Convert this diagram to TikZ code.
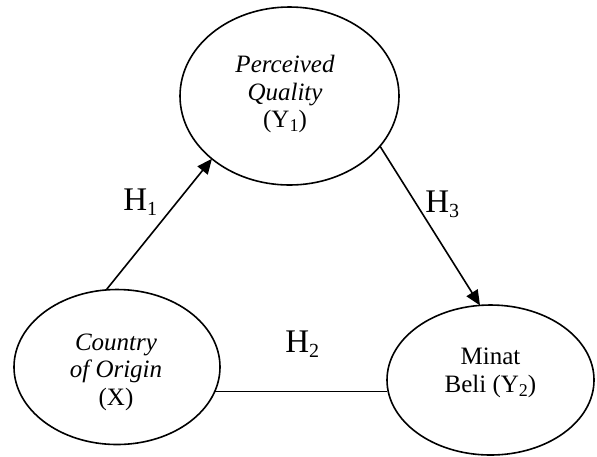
\documentclass[tikz,border=0pt]{standalone}
\usepackage{fontspec}
\setmainfont{Liberation Serif}[ItalicFont={Liberation Serif Italic}]
\usetikzlibrary{shapes.geometric,arrows.meta}
\newcommand{\lowidx}[2]{\raisebox{-0.35ex}{\fontsize{#1}{#1}\selectfont #2}}

\begin{document}
\begin{tikzpicture}[x=0.5pt,y=-0.5pt,
    var/.style={draw, ellipse, line width=0.8pt, inner sep=0pt, outer sep=0pt},
    vartext/.style={align=center, inner sep=0pt, font=\fontsize{12.5}{13.75}\selectfont},
    hyp/.style={anchor=base west, inner sep=0pt, font=\fontsize{16.5}{18}\selectfont},
    effect/.style={line width=0.8pt, -{Triangle[length=7.5pt,width=6.5pt]}}]
    \useasboundingbox (0,0) rectangle (597,456);

    % Variables
    \node[var, minimum width=109.5pt, minimum height=89pt] (pq) at (289.5,96) {};
    \node[var, minimum width=103pt, minimum height=77.5pt] (coo) at (117,367) {};
    \node[var, minimum width=103.5pt, minimum height=75pt] (mb) at (490.5,380) {};

    \node[vartext] (pqtext) at (285,94) {\textit{Perceived}\\\textit{Quality}\\(Y\lowidx{9}{1})};
    \node[vartext] (cootext) at (116,372) {\textit{Country}\\\textit{of Origin}\\(X)};
    \node[vartext] (mbtext) at (490.5,373) {Minat\\Beli (Y\lowidx{9}{2})};

    % Hypotheses
    \draw[effect] (coo.98) -- (pq.219);
    \draw[effect] (pq.331) -- (mb.98);
    \draw[line width=0.8pt] (coo.-14) -- (coo.-14 -| mb.west);

    \node[hyp] (h1) at (123,210) {H\lowidx{10}{1}};
    \node[hyp] (h2) at (285,352) {H\lowidx{10}{2}};
    \node[hyp] (h3) at (425,212) {H\lowidx{10}{3}};
\end{tikzpicture}
\end{document}
